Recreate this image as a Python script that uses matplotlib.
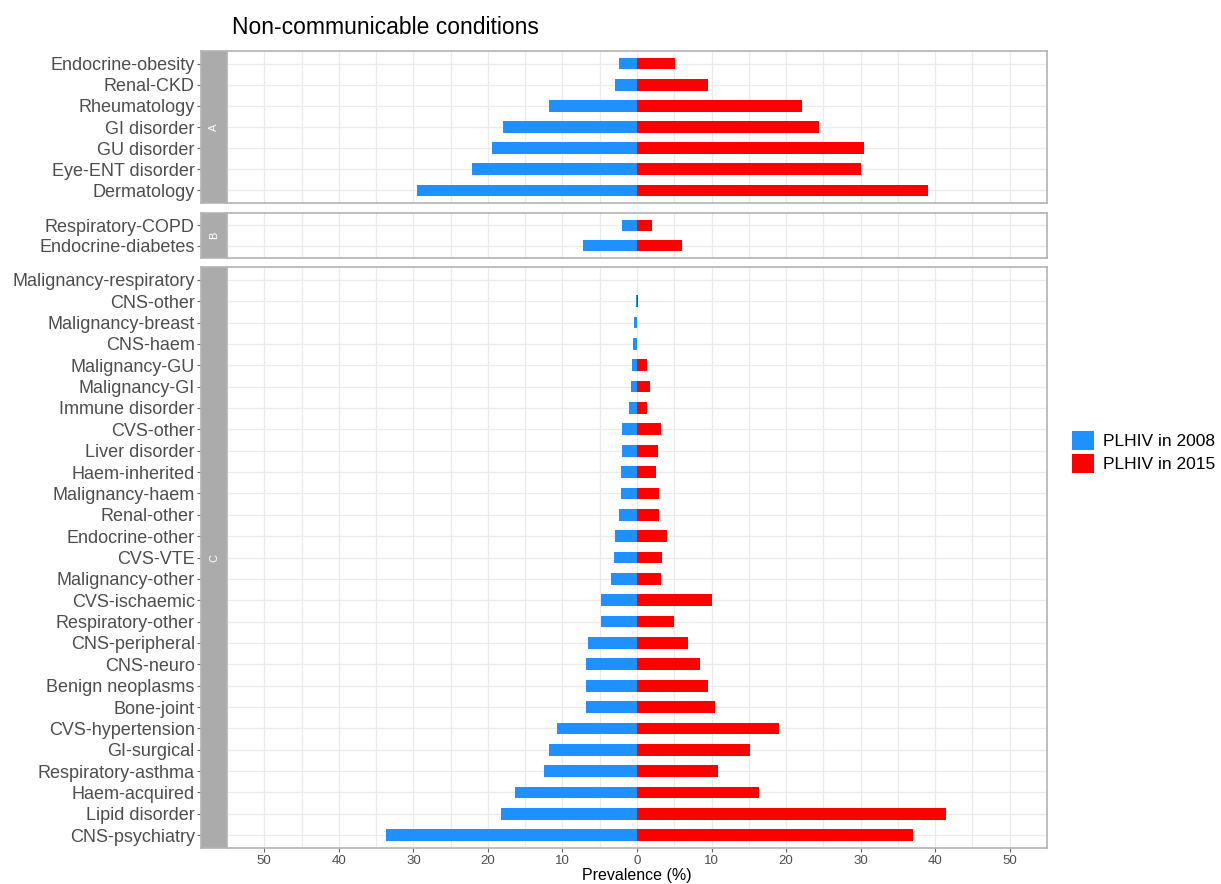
import matplotlib.pyplot as plt
import numpy as np
from matplotlib.patches import Patch

plt.rcParams['font.family'] = ['Liberation Sans', 'DejaVu Sans']

# data: prevalence (%) per condition, listed top to bottom in each panel
cond_a = ["Endocrine-obesity", "Renal-CKD", "Rheumatology", "GI disorder",
          "GU disorder", "Eye-ENT disorder", "Dermatology"]
y2008_a = [2.4, 3.0, 11.8, 18.0, 19.4, 22.1, 29.5]
y2015_a = [5.1, 9.5, 22.2, 24.4, 30.5, 30.0, 39.0]

cond_b = ["Respiratory-COPD", "Endocrine-diabetes"]
y2008_b = [2.0, 7.2]
y2015_b = [2.0, 6.1]

cond_c = ["Malignancy-respiratory", "CNS-other", "Malignancy-breast", "CNS-haem",
          "Malignancy-GU", "Malignancy-GI", "Immune disorder", "CVS-other",
          "Liver disorder", "Haem-inherited", "Malignancy-haem", "Renal-other",
          "Endocrine-other", "CVS-VTE", "Malignancy-other", "CVS-ischaemic",
          "Respiratory-other", "CNS-peripheral", "CNS-neuro", "Benign neoplasms",
          "Bone-joint", "CVS-hypertension", "GI-surgical", "Respiratory-asthma",
          "Haem-acquired", "Lipid disorder", "CNS-psychiatry"]
y2008_c = [0.05, 0.2, 0.4, 0.6, 0.7, 0.85, 1.1, 2.0, 2.0, 2.2, 2.2, 2.4, 2.9, 3.1,
           3.5, 4.8, 4.8, 6.6, 6.8, 6.8, 6.8, 10.7, 11.8, 12.5, 16.4, 18.2, 33.7]
y2015_c = [0.05, 0.2, 0.0, 0.0, 1.4, 1.8, 1.3, 3.2, 2.8, 2.6, 3.0, 3.0, 4.0, 3.4,
           3.2, 10.1, 5.0, 6.9, 8.4, 9.5, 10.5, 19.1, 15.2, 10.9, 16.4, 41.5, 37.0]

panels = [("A", cond_a, y2008_a, y2015_a),
          ("B", cond_b, y2008_b, y2015_b),
          ("C", cond_c, y2008_c, y2015_c)]

blue = "#1E90FF"
red = "#FF0000"
border = "#B3B3B3"
grid = "#EBEBEB"

W, H = 1221, 884
fig = plt.figure(figsize=(W / 100, H / 100), dpi=100)

# panel boxes in pixels (top, bottom)
x0, x1 = 227, 1047
strip_w = 26
boxes = [(51, 203), (213, 258), (267, 848)]

for (lab, cats, v08, v15), (top, bot) in zip(panels, boxes):
    ax = fig.add_axes([x0 / W, 1 - bot / H, (x1 - x0) / W, (bot - top) / H])
    # move y axis out past the strip first (this resets tick settings)
    ax.spines["left"].set_position(("outward", strip_w * 0.72))
    ax.spines["left"].set_visible(False)
    y = np.arange(len(cats))
    ax.barh(y, -np.array(v08), height=0.55, color=blue, zorder=3)
    ax.barh(y, v15, height=0.55, color=red, zorder=3)
    ax.set_xlim(-55, 55)
    ax.set_ylim(len(cats) - 1 + 0.6, -0.6)
    ax.set_yticks(y)
    ax.set_yticklabels(cats, fontsize=13, color="#4D4D4D")
    ax.set_xticks(np.arange(-50, 51, 10))
    ax.set_xticks(np.arange(-55, 56, 5), minor=True)
    ax.grid(True, which="both", color=grid, linewidth=0.9, zorder=0)
    ax.tick_params(axis="x", which="minor", length=0)
    ax.tick_params(axis="y", length=3, color="#666666", pad=1.5)
    for s in ["top", "right", "bottom"]:
        ax.spines[s].set_color(border)
        ax.spines[s].set_linewidth(1.2)
    if lab == "C":
        ax.set_xticklabels([str(abs(t)) for t in range(-50, 51, 10)],
                           fontsize=9.5, color="#4D4D4D")
        ax.tick_params(axis="x", length=3, color="#666666", pad=2)
        ax.set_xlabel("Prevalence (%)", fontsize=11.5, labelpad=1)
    else:
        ax.tick_params(axis="x", labelbottom=False, length=0)

    # facet strip on the left
    sax = fig.add_axes([(x0 - strip_w) / W, 1 - bot / H, strip_w / W, (bot - top) / H])
    sax.set_facecolor("#ABABAB")
    sax.set_xticks([])
    sax.set_yticks([])
    for s in sax.spines.values():
        s.set_color(border)
        s.set_linewidth(1.2)
    sax.text(0.5, 0.5, lab, rotation=90, color="white", fontsize=8,
             ha="center", va="center", transform=sax.transAxes)

fig.text(232 / W, 1 - 27 / H, "Non-communicable conditions", fontsize=16.5,
         ha="left", va="center")

handles = [Patch(facecolor=blue, label="PLHIV in 2008"),
           Patch(facecolor=red, label="PLHIV in 2015")]
fig.legend(handles=handles, loc="center left", bbox_to_anchor=(1056 / W, 1 - 452 / H),
           frameon=False, fontsize=12.5, handlelength=1.3, handleheight=1.3,
           labelspacing=0.25, handletextpad=0.5)

fig.savefig("out.png", dpi=100)
